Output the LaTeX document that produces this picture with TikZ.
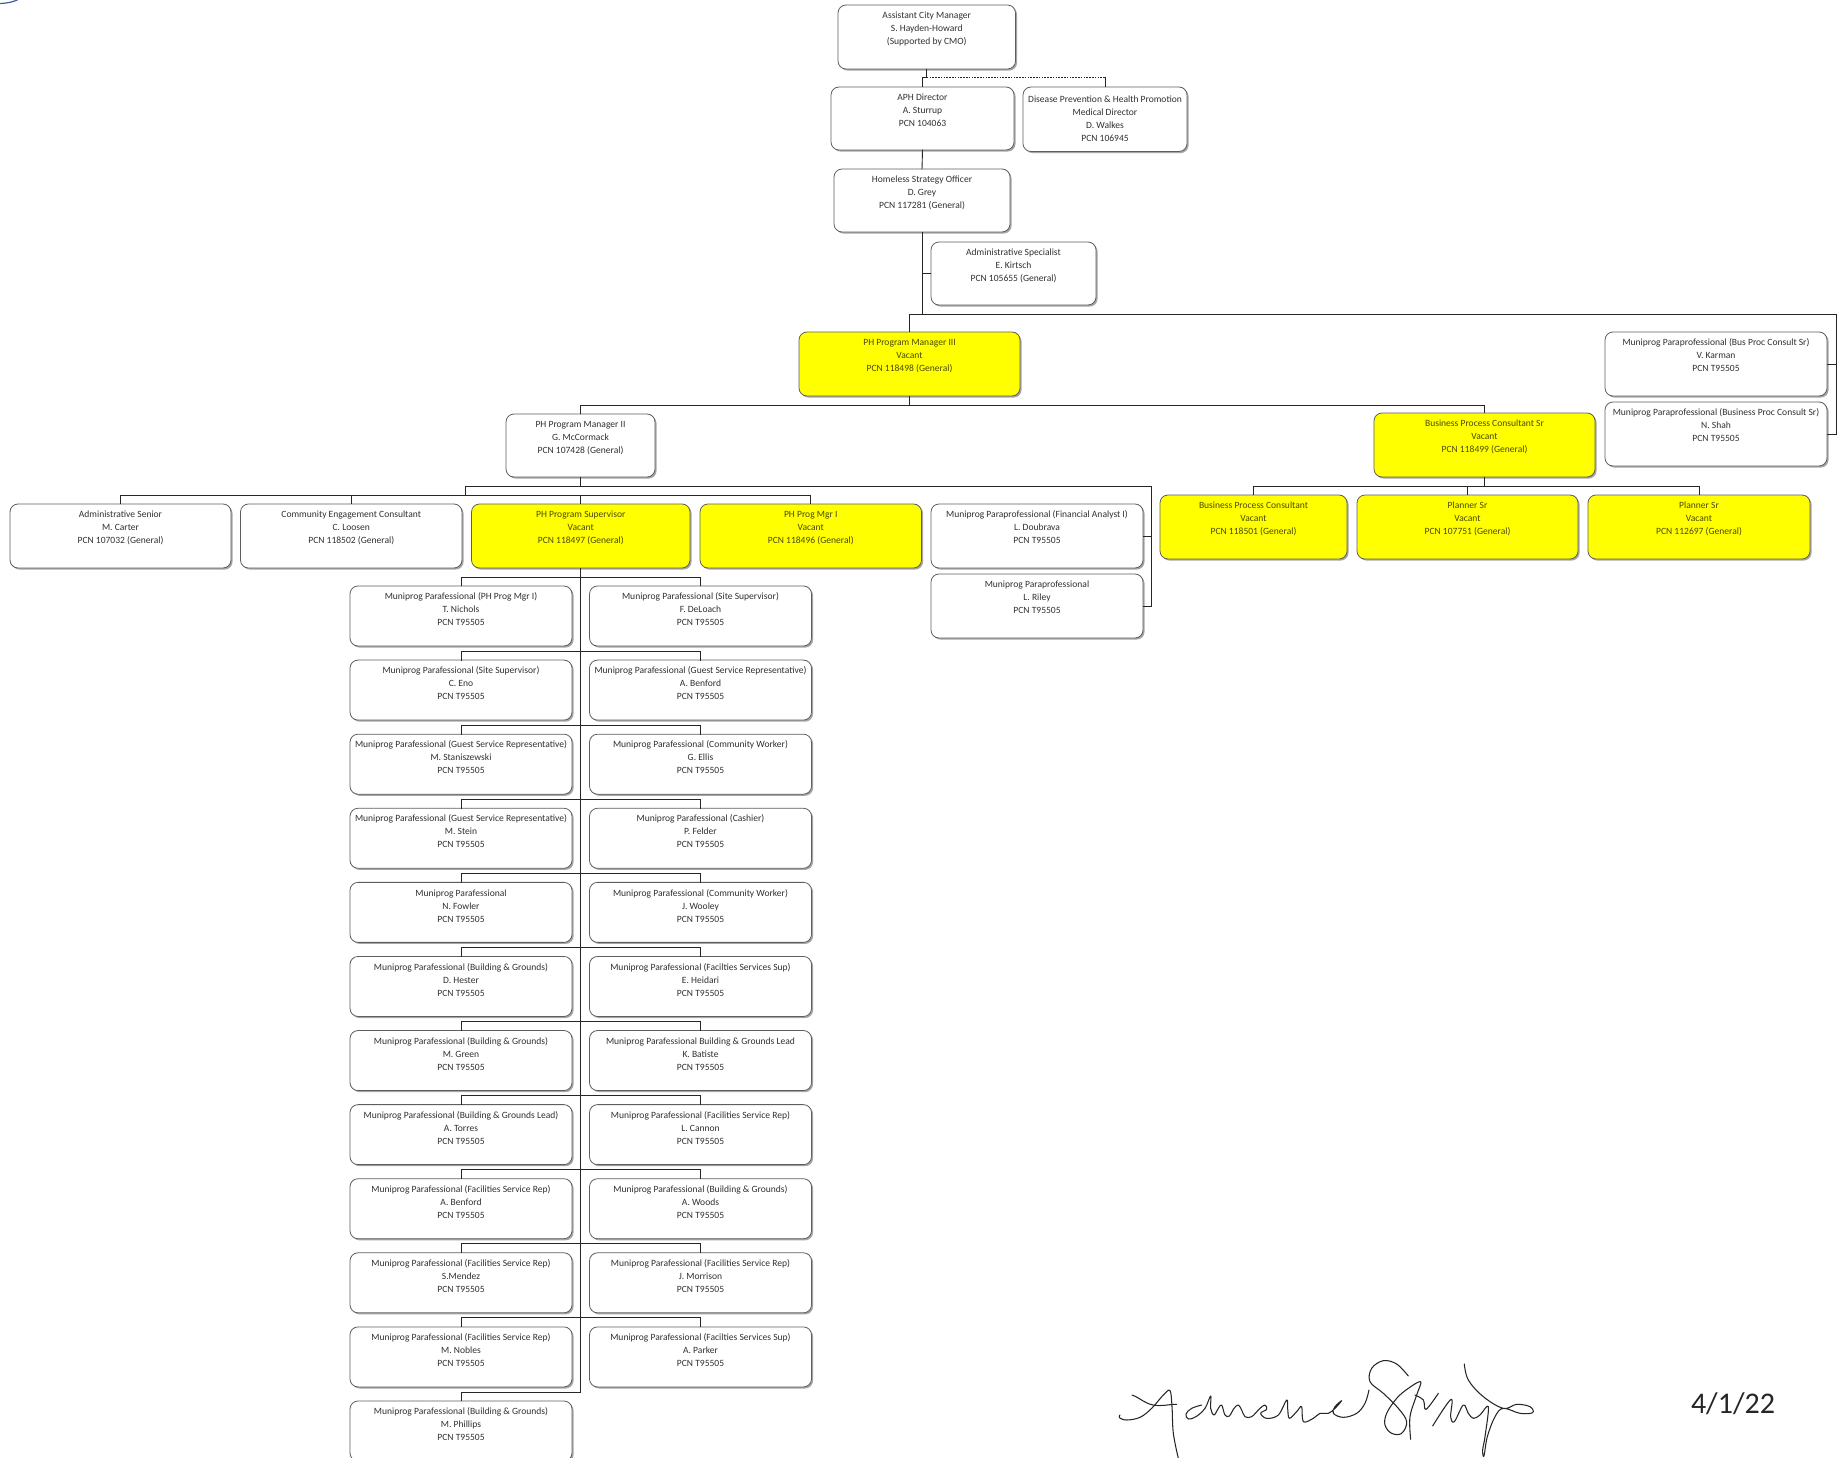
\documentclass[tikz,border=0pt]{standalone}
\usepackage{fontspec}
\setmainfont{Carlito}
\usetikzlibrary{calc}
\definecolor{cardline}{HTML}{5E5E5E}
\definecolor{cardshadow}{HTML}{A6A6A6}
\definecolor{cardtext}{HTML}{303030}
\definecolor{vacanttext}{HTML}{4A4A05}
\definecolor{vacantfill}{HTML}{FFFF00}
\definecolor{logoblue}{HTML}{3F5F9F}
\tikzset{
  cardbase/.style={draw=cardline,line width=0.8pt,rounded corners=8pt,inner sep=0pt,outer sep=0pt,anchor=center},
  plaincard/.style={cardbase,fill=white,text=cardtext},
  vacantcard/.style={cardbase,fill=vacantfill,text=vacanttext},
  conn/.style={draw=black!85,line width=0.9pt,line cap=rect},
  sig/.style={draw=black!85,line width=1.05pt,line cap=round,line join=round},
}
% \card[top gap]{name}{x1}{y1}{x2}{y2}{style}{lines}
\newcommand{\card}[8][4.6]{%
  \pgfmathsetmacro{\cw}{#5-#3}\pgfmathsetmacro{\ch}{#6-#4}%
  \fill[cardshadow,rounded corners=8pt] ({#3+1.6},{#4+1.6}) rectangle ({#5+1.6},{#6+1.6});
  \node[#7,minimum width=\cw pt,minimum height=\ch pt] (#2) at ({(#3+#5)/2},{(#4+#6)/2})
    {\parbox[c][\ch pt][t]{\cw pt}{\fontsize{9.55}{13}\selectfont\centering\vspace*{#1pt}\strut #8}};
}
\newcommand{\rowcard}[4]{% name, x1, row, text
  \pgfmathsetmacro{\rt}{586+74.09*#3}\pgfmathsetmacro{\rb}{\rt+60}\pgfmathsetmacro{\rr}{#2+222}%
  \card{#1}{#2}{\rt}{\rr}{\rb}{plaincard}{#4\\PCN T95505}
}
\newcommand{\MP}{Muniprog Parafessional}
\begin{document}
\begin{tikzpicture}[x=1pt,y=-1pt]
\useasboundingbox (0,0) rectangle (1838,1458);
\fill[white] (0,0) rectangle (1838,1458);

% bus coordinates
\coordinate (busa) at (0,77.5);
\coordinate (busb) at (0,314);
\coordinate (rail) at (1836,314);
\coordinate (busc) at (0,405);
\coordinate (busd) at (0,486);
\coordinate (buse) at (0,495);
\coordinate (sideA) at (465.5,486);
\coordinate (sideB) at (1151,486);
\coordinate (supend) at (0,1392);

% cards
\card{acm}{838}{5}{1015.5}{69}{plaincard}{Assistant City Manager\\S. Hayden-Howard\\(Supported by CMO)}
\card{aph}{831}{87}{1014}{150}{plaincard}{APH Director\\A. Sturrup\\PCN 104063}
\card[6.6]{dis}{1023}{87}{1187}{151.5}{plaincard}{Disease Prevention \& Health Promotion\\Medical Director\\D. Walkes\\PCN 106945}
\card{home}{834}{169}{1010}{232}{plaincard}{Homeless Strategy Officer\\D. Grey\\PCN 117281 (General)}
\card{spec}{931}{242}{1096}{305}{plaincard}{Administrative Specialist\\E. Kirtsch\\PCN 105655 (General)}
\card{phiii}{799}{332}{1020}{396}{vacantcard}{PH Program Manager III\\Vacant\\PCN 118498 (General)}
\card{karman}{1605}{332}{1827}{396}{plaincard}{Muniprog Paraprofessional (Bus Proc Consult Sr)\\V. Karman\\PCN T95505}
\card{shah}{1605}{402}{1827}{466}{plaincard}{Muniprog Paraprofessional (Business Proc Consult Sr)\\N. Shah\\PCN T95505}
\card{pmii}{506}{414}{655}{477}{plaincard}{PH Program Manager II\\G. McCormack\\PCN 107428 (General)}
\card{bpcsr}{1374}{413}{1595}{477}{vacantcard}{Business Process Consultant Sr\\Vacant\\PCN 118499 (General)}
\card{adm}{10}{504}{231}{568}{plaincard}{Administrative Senior\\M. Carter\\PCN 107032 (General)}
\card{comm}{240.5}{504}{462}{568}{plaincard}{Community Engagement Consultant\\C. Loosen\\PCN 118502 (General)}
\card{sup}{471.5}{504}{690}{568}{vacantcard}{PH Program Supervisor\\Vacant\\PCN 118497 (General)}
\card{mgri}{700}{504}{921.5}{568}{vacantcard}{PH Prog Mgr I\\Vacant\\PCN 118496 (General)}
\card{doub}{931}{504}{1143}{568}{plaincard}{Muniprog Paraprofessional (Financial Analyst I)\\L. Doubrava\\PCN T95505}
\card{riley}{931}{574}{1143}{638}{plaincard}{Muniprog Paraprofessional\\L. Riley\\PCN T95505}
\card{bpc}{1160}{495}{1347}{559}{vacantcard}{Business Process Consultant\\Vacant\\PCN 118501 (General)}
\card{plone}{1357}{495}{1578}{559}{vacantcard}{Planner Sr\\Vacant\\PCN 107751 (General)}
\card{pltwo}{1588}{495}{1810}{559}{vacantcard}{Planner Sr\\Vacant\\PCN 112697 (General)}

% rows under the supervisor
\rowcard{la}{350}{0}{\MP\ (PH Prog Mgr I)\\T. Nichols}
\rowcard{ra}{589.5}{0}{\MP\ (Site Supervisor)\\F. DeLoach}
\rowcard{lb}{350}{1}{\MP\ (Site Supervisor)\\C. Eno}
\rowcard{rb}{589.5}{1}{\MP\ (Guest Service Representative)\\A. Benford}
\rowcard{lc}{350}{2}{\MP\ (Guest Service Representative)\\M. Staniszewski}
\rowcard{rc}{589.5}{2}{\MP\ (Community Worker)\\G. Ellis}
\rowcard{ld}{350}{3}{\MP\ (Guest Service Representative)\\M. Stein}
\rowcard{rd}{589.5}{3}{\MP\ (Cashier)\\P. Felder}
\rowcard{le}{350}{4}{\MP\\N. Fowler}
\rowcard{re}{589.5}{4}{\MP\ (Community Worker)\\J. Wooley}
\rowcard{lf}{350}{5}{\MP\ (Building \& Grounds)\\D. Hester}
\rowcard{rf}{589.5}{5}{\MP\ (Facilties Services Sup)\\E. Heidari}
\rowcard{lg}{350}{6}{\MP\ (Building \& Grounds)\\M. Green}
\rowcard{rg}{589.5}{6}{\MP\ Building \& Grounds Lead\\K. Batiste}
\rowcard{lh}{350}{7}{\MP\ (Building \& Grounds Lead)\\A. Torres}
\rowcard{rh}{589.5}{7}{\MP\ (Facilities Service Rep)\\L. Cannon}
\rowcard{li}{350}{8}{\MP\ (Facilities Service Rep)\\A. Benford}
\rowcard{ri}{589.5}{8}{\MP\ (Building \& Grounds)\\A. Woods}
\rowcard{lj}{350}{9}{\MP\ (Facilities Service Rep)\\S.Mendez}
\rowcard{rj}{589.5}{9}{\MP\ (Facilities Service Rep)\\J. Morrison}
\rowcard{lk}{350}{10}{\MP\ (Facilities Service Rep)\\M. Nobles}
\rowcard{rk}{589.5}{10}{\MP\ (Facilties Services Sup)\\A. Parker}
\rowcard{ll}{350}{11}{\MP\ (Building \& Grounds)\\M. Phillips}

% connectors: top of the tree
\draw[conn] (acm.south) -- (acm.south |- busa) -- (aph.north |- busa) -- (aph.north);
\draw[draw=black!85,line width=0.9pt,dash pattern=on 1.6pt off 1.2pt] (acm.south |- busa) -- (dis.north |- busa);
\draw[conn] (dis.north |- busa) -- (dis.north);
\draw[conn] (aph.south) -- (home.north);
\draw[conn] (home.south) -- (home.south |- busb);
\draw[conn] (home.south |- spec.west) -- (spec.west);
\draw[conn] (phiii.north) -- (phiii.north |- busb) -- (rail) -- (rail |- shah.east) -- (shah.east);
\draw[conn] (rail |- karman.east) -- (karman.east);
% programme manager III
\draw[conn] (phiii.south) -- (phiii.south |- busc);
\draw[conn] (pmii.north) -- (pmii.north |- busc) -- (bpcsr.north |- busc) -- (bpcsr.north);
% programme manager II
\draw[conn] (pmii.south) -- (pmii.south |- busd);
\draw[conn] (adm.north) -- (adm.north |- buse) -- (sideA |- buse) -- (sideA) -- (sideB) -- (sideB |- riley.east) -- (riley.east);
\draw[conn] (sideB |- doub.east) -- (doub.east);
\draw[conn] (sideA |- buse) -- (mgri.north |- buse) -- (mgri.north);
\draw[conn] (comm.north |- buse) -- (comm.north);
\draw[conn] (sup.north |- buse) -- (sup.north);
% business process consultant
\draw[conn] (bpcsr.south) -- (bpcsr.south |- busd);
\draw[conn] (bpc.north) -- (bpc.north |- busd) -- (pltwo.north |- busd) -- (pltwo.north);
\draw[conn] (plone.north |- busd) -- (plone.north);
% supervisor trunk
\draw[conn] (sup.south) -- (sup.south |- supend) -- (ll.north |- supend) -- (ll.north);
\foreach \a/\b in {la/ra,lb/rb,lc/rc,ld/rd,le/re,lf/rf,lg/rg,lh/rh,li/ri,lj/rj,lk/rk}{
  \coordinate (rowbus) at ($(\a.north)+(0,-9)$);
  \draw[conn] (\a.north) -- (rowbus) -- (\b.north |- rowbus) -- (\b.north);
}

% logo fragment
\draw[logoblue,line width=1.2pt] (0,3.5) .. controls (6,3.4) and (12,2.2) .. (17.5,0);

% signature
\begin{scope}[shift={(1110,1350)},x=0.3333pt,y=-0.3333pt]
  \draw[sig] (66,135) to[out=-20,in=170] (130,165) to[out=-10,in=180] (200,163);
  \draw[sig] plot[smooth,tension=0.6] coordinates {(30,195) (28,203) (50,210) (90,202) (125,175) (160,135) (180,122) (186,170) (190,250) (205,325)};
  \draw[sig] plot[smooth,tension=0.6] coordinates {(275,165) (245,175) (228,192) (235,207) (258,200) (285,175) (302,138) (302,175) (312,195) (325,175) (335,165) (345,195) (358,198) (372,175) (385,165) (395,180) (405,200) (425,200) (450,175) (465,165) (470,178) (452,190) (470,205) (505,195) (530,150) (533,175) (538,205) (560,185) (575,170) (580,215) (610,205) (630,190)
   (655,190) (675,175) (695,152) (675,170) (670,190) (700,202) (740,190) (765,160) (777,120)};
\end{scope}
\begin{scope}[shift={(1320,1350)},x=0.3333pt,y=-0.3333pt]
  \draw[sig] plot[smooth,tension=0.6] coordinates {(265,78) (230,42) (190,32) (155,55) (150,95) (190,130) (235,175) (260,215) (245,250) (215,250) (195,225) (200,190) (230,145) (265,115) (302,95) (290,135) (270,200) (272,268)};
  \draw[sig] plot[smooth,tension=0.6] coordinates {(285,135) (310,150) (318,178) (355,130)};
  \draw[sig] plot[smooth,tension=0.6] coordinates {(338,228) (393,148) (392,200) (403,215) (430,165) (445,190) (460,205) (480,195) (505,170) (495,260) (488,300) (492,318) (502,260) (525,200) (550,175) (600,190) (638,188) (630,170) (590,163) (550,175) (490,140) (445,90) (433,42)};
\end{scope}

% date
\node[inner sep=0pt,text=black!85,font=\fontsize{30}{34}\selectfont] (date) at (1733,1403.5) {4/1/22};
\end{tikzpicture}
\end{document}
